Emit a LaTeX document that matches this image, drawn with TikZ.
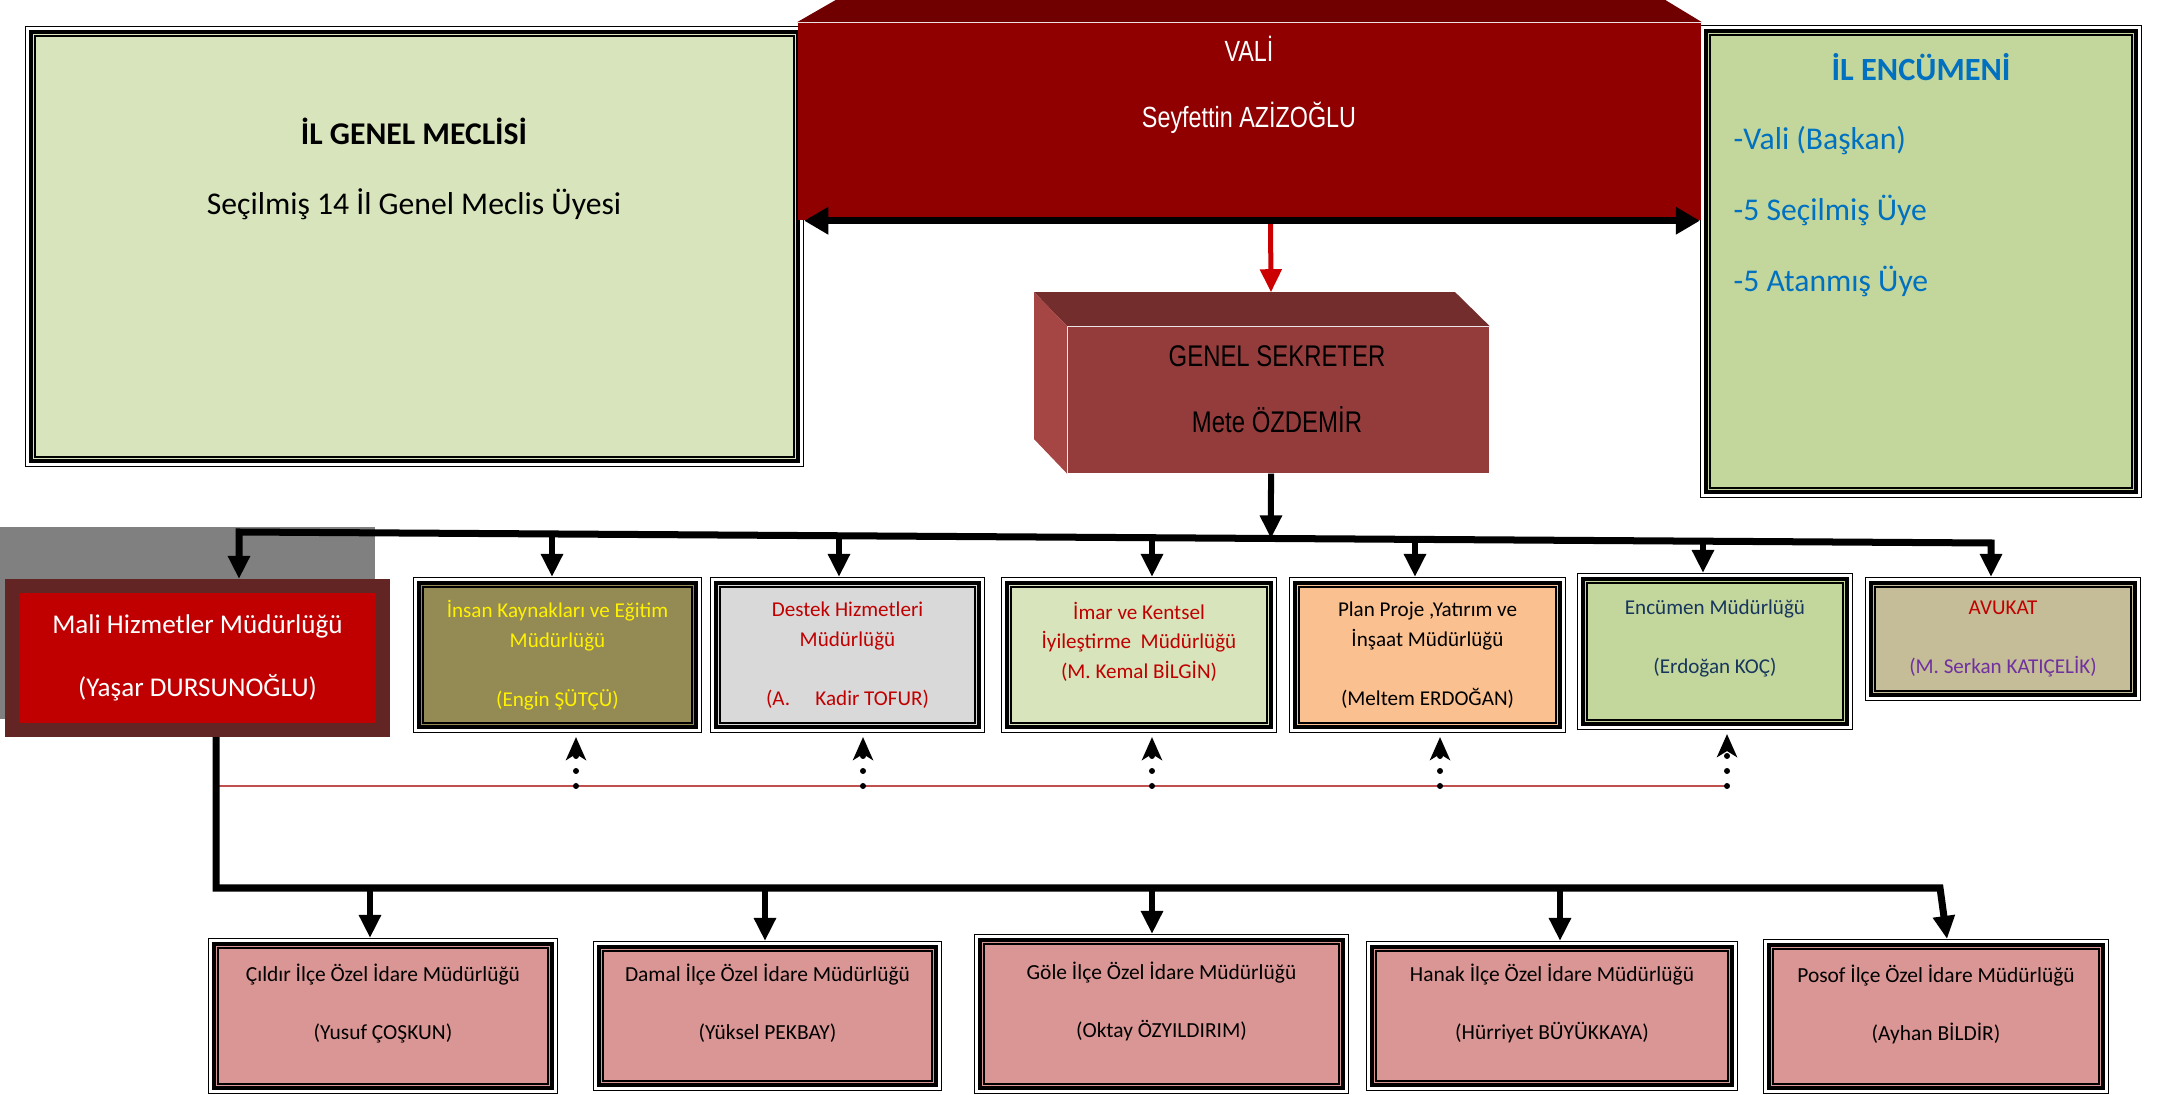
\documentclass[tikz,border=0pt]{standalone}
\usepackage{fontspec}
\setmainfont{Carlito}
\newfontfamily\dar[FakeStretch=0.8]{Liberation Sans}
\usetikzlibrary{arrows.meta,calc}

\definecolor{meclisyesil}{HTML}{D8E4BC}
\definecolor{encumenyesil}{HTML}{C3D69B}
\definecolor{valion}{HTML}{900000}
\definecolor{valiust}{HTML}{700000}
\definecolor{gson}{HTML}{943C3B}
\definecolor{gsust}{HTML}{732D2D}
\definecolor{gsyan}{HTML}{A64644}
\definecolor{maliic}{HTML}{C00000}
\definecolor{malicerceve}{HTML}{632523}
\definecolor{zeytin}{HTML}{948A54}
\definecolor{gri}{HTML}{D9D9D9}
\definecolor{turuncu}{HTML}{FAC090}
\definecolor{haki}{HTML}{C4BD97}
\definecolor{pembe}{HTML}{D99694}
\definecolor{golge}{HTML}{808080}
\definecolor{koyukirmizi}{HTML}{C00000}
\definecolor{okkirmizi}{HTML}{CC0000}
\definecolor{mavi}{HTML}{0070C0}
\definecolor{lacivert}{HTML}{17365D}
\definecolor{mor}{HTML}{7030A0}
\definecolor{cizgikirmizi}{HTML}{C0504D}

\begin{document}
\begin{tikzpicture}[x=0.01cm, y=-0.01cm,
    kutu/.style={draw=black, fill=#1, line width=0.2mm, inner sep=0pt, outer sep=1mm, align=center,
        preaction={draw=black, line width=2mm},
        preaction={draw=white, line width=1.7mm},
        preaction={draw=black, line width=1.2mm},
        preaction={draw=#1, line width=0.4mm}},
    mud/.style={kutu=#1, minimum height=1.36cm, font={\fontsize{6pt}{8.4pt}\selectfont}},
    ilce/.style={kutu=pembe, font={\fontsize{6.1pt}{8pt}\selectfont}},
    ok/.style={line width=0.6mm, -{Triangle[length=2.3mm, width=2.1mm]}},
    hat/.style={line width=0.7mm},
    noktali/.style={line width=0.6mm, line cap=round, dash pattern=on 0pt off 1.5mm, -{Stealth[length=2.3mm, width=2mm, inset=0.6mm]}},
    yazi/.style={inner sep=0pt, align=center}]
    \useasboundingbox (0,0) rectangle (2161,1095);

    % Ust sira
    \fill[golge] (0,527) rectangle (375,719);
    \node[kutu=meclisyesil, minimum width=7.59cm, minimum height=4.21cm] (meclis) at (414.5,246.5) {};
    \node[kutu=encumenyesil, minimum width=4.22cm, minimum height=4.53cm] (encumen) at (1921,261.5) {};
    \node[fill=valion, inner sep=0pt, minimum width=9.03cm, minimum height=1.97cm] (vali) at (1249.5,121.5) {};
    \fill[valiust] (vali.north west) -- ++(40,-23) -- ++(827,0) -- (vali.north east) -- cycle;

    \node[yazi, font={\fontsize{9pt}{20pt}\selectfont}] (meclisyazi) at (414,169) {\textbf{İL GENEL MECLİSİ}\\Seçilmiş 14 İl Genel Meclis Üyesi};
    \node[yazi, text=mavi, font={\bfseries\fontsize{9.2pt}{11pt}\selectfont}] (encumenad) at (1921,67) {İL ENCÜMENİ};
    \node[yazi, text=mavi, align=left, anchor=west, font={\fontsize{9pt}{20.3pt}\selectfont}] (uyeler) at (1733,211.5) {-Vali (Başkan)\\-5 Seçilmiş Üye\\-5 Atanmış Üye};
    \node[yazi, text=white, font={\dar\fontsize{8.3pt}{18.8pt}\selectfont}] (valiad) at (1249,85) {VALİ\\Seyfettin AZİZOĞLU};

    % Genel sekreter
    \node[fill=gson, inner sep=0pt, minimum width=4.21cm, minimum height=1.46cm] (gs) at (1278.5,400) {};
    \fill[gsust] (gs.north west) -- ++(-33,-34) -- ++(421,0) -- (gs.north east) -- cycle;
    \fill[gsyan] (gs.north west) -- ++(-33,-34) -- ++(0,147) -- (gs.south west) -- cycle;
    \node[yazi, font={\dar\fontsize{8.5pt}{18.8pt}\selectfont}] (gsad) at (1277,389) {GENEL SEKRETER\\Mete ÖZDEMİR};

    % Mudurlukler
    \node[fill=maliic, draw=malicerceve, line width=1.4mm, inner sep=0pt, minimum width=3.71cm, minimum height=1.44cm, text=white, align=center, font={\fontsize{7.7pt}{9.5pt}\selectfont}] (mali) at (197.5,658) {Mali Hizmetler Müdürlüğü\\[8.5pt](Yaşar DURSUNOĞLU)};
    \node[mud=zeytin, text=yellow, minimum width=2.69cm] (insan) at (557.5,655) {İnsan Kaynakları ve Eğitim\\Müdürlüğü\\[8.4pt](Engin ŞÜTÇÜ)};
    \node[mud=gri, text=koyukirmizi, minimum width=2.55cm] (destek) at (847.5,655) {Destek Hizmetleri\\Müdürlüğü\\[8.4pt](A.\hspace{1.2em}Kadir TOFUR)};
    \node[mud=meclisyesil, text=koyukirmizi, minimum width=2.56cm] (imar) at (1139,655) {İmar ve Kentsel\\İyileştirme\ \ Müdürlüğü\\(M. Kemal BİLGİN)\\\mbox{}};
    \node[mud=turuncu, minimum width=2.57cm] (plan) at (1427.5,655) {Plan Proje ,Yatırım ve\\İnşaat Müdürlüğü\\[8.4pt](Meltem ERDOĞAN)};
    \node[mud=encumenyesil, text=lacivert, minimum width=2.56cm, minimum height=1.37cm] (encmud) at (1715,651.5) {Encümen Müdürlüğü\\[8.4pt](Erdoğan KOÇ)\\\mbox{}};
    \node[mud=haki, minimum width=2.56cm, minimum height=1.04cm] (avukat) at (2003,639) {\textcolor{koyukirmizi}{AVUKAT}\\[8.4pt]\textcolor{mor}{(M. Serkan KATIÇELİK)}};

    % Ilceler
    \node[ilce, minimum width=3.30cm, minimum height=1.36cm] (cildir) at (383,1016) {Çıldır İlçe Özel İdare Müdürlüğü\\[8.5pt](Yusuf ÇOŞKUN)\\\mbox{}};
    \node[ilce, minimum width=3.29cm, minimum height=1.30cm] (damal) at (767.5,1016) {Damal İlçe Özel İdare Müdürlüğü\\[8.5pt](Yüksel PEKBAY)\\\mbox{}};
    \node[ilce, minimum width=3.55cm, minimum height=1.40cm] (gole) at (1161.5,1014) {Göle İlçe Özel İdare Müdürlüğü\\[8.5pt](Oktay ÖZYILDIRIM)\\\mbox{}};
    \node[ilce, minimum width=3.52cm, minimum height=1.30cm] (hanak) at (1552,1016) {Hanak İlçe Özel İdare Müdürlüğü\\[8.5pt](Hürriyet BÜYÜKKAYA)\\\mbox{}};
    \node[ilce, minimum width=3.26cm, minimum height=1.35cm] (posof) at (1936,1016.5) {Posof İlçe Özel İdare Müdürlüğü\\[8.5pt](Ayhan BİLDİR)\\\mbox{}};

    % Baglantilar
    \draw[ok, draw=okkirmizi, line width=0.5mm] ([xshift=2.1mm]vali.south) -- ([xshift=-0.75mm, yshift=3.4mm]gs.north);
    \draw[hat, {Triangle[length=2.4mm, width=2.6mm]}-{Triangle[length=2.4mm, width=2.6mm]}] (meclis.east |- vali.south) -- (encumen.west |- vali.south);

    \coordinate (ustL) at (239,532);
    \coordinate (ustR) at (1991,543);
    \draw[ok] ([xshift=-0.75mm]gs.south) -- ($(ustL)!0.589!(ustR)$);
    \draw[hat, {Triangle[length=2.3mm, width=2.1mm]}-{Triangle[length=2.3mm, width=2.1mm]}] (ustL |- mali.north) -- (ustL) -- (ustR) -- (ustR |- avukat.north);
    \foreach \k/\x in {insan/552, destek/839, imar/1152, plan/1415, encmud/1703} {
        \pgfmathsetmacro\t{(\x-239)/1752}
        \path ($(ustL)!\t!(ustR)$) coordinate (b);
        \draw[ok] (b) -- (b |- \k.north);
    }

    \coordinate (kirL) at (216,786);
    \coordinate (kirR) at (1727,786);
    \draw[cizgikirmizi, line width=0.25mm] (kirL) -- (kirR);
    \foreach \k/\x in {insan/576, destek/863, imar/1152, plan/1440, encmud/1727} {
        \pgfmathsetmacro\t{(\x-216)/1511}
        \path ($(kirL)!\t!(kirR)$) coordinate (n);
        \draw[noktali, shorten >=0.4mm] (n) -- (n |- \k.south);
    }

    \coordinate (altL) at (216,888);
    \coordinate (altR) at (1940,888);
    \draw[hat, -{Triangle[length=2.3mm, width=2.1mm]}] ([xshift=1.85mm]mali.south) -- (altL) -- (altR) -- ([xshift=1.1mm]posof.north);
    \foreach \k/\x in {cildir/370, damal/765, gole/1152, hanak/1560} {
        \pgfmathsetmacro\t{(\x-216)/1724}
        \path ($(altL)!\t!(altR)$) coordinate (b);
        \draw[ok] (b) -- (b |- \k.north);
    }
\end{tikzpicture}
\end{document}
